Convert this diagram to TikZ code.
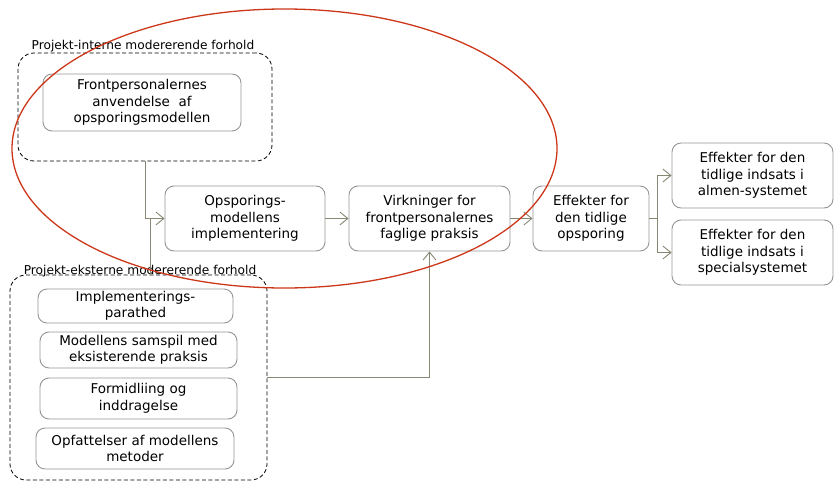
\documentclass[tikz,border=0pt]{standalone}
\usepackage{fontspec}
\setmainfont{DejaVu Sans}
\usetikzlibrary{arrows.meta}
\definecolor{boxline}{RGB}{150,150,150}
\definecolor{connline}{RGB}{135,135,115}
\definecolor{ringred}{RGB}{205,55,25}
\tikzset{
  stepbox/.style={draw=boxline, line width=0.9pt, rounded corners=9pt, fill=white,
    align=center, inner sep=0pt, font=\fontsize{13.5}{16.5}\selectfont},
  groupbox/.style={draw=black, line width=0.8pt, dash pattern=on 4pt off 2.5pt,
    rounded corners=16pt, inner sep=0pt},
  grouplabel/.style={anchor=base, inner sep=0pt, font=\fontsize{12.2}{14}\selectfont},
  conn/.style={draw=connline, line width=0.9pt},
  connarrow/.style={conn, -{Straight Barb[length=8pt, width=13pt, line width=0.9pt]}},
  ring/.style={draw=ringred, line width=1.3pt}
}
\begin{document}
\begin{tikzpicture}[x=1pt, y=-1pt]
\useasboundingbox (0,0) rectangle (836,482);

% project-internal group
\node[groupbox, minimum width=254pt, minimum height=108pt] (topgrp) at (145,107) {};
\node[grouplabel] (toplbl) at (143,49) {Projekt-interne modererende forhold};
\node[stepbox, minimum width=198pt, minimum height=57pt] (fp) at (142,102.5)
  {Frontpersonalernes\\anvendelse\ \ af\\opsporingsmodellen};

% project-external group
\node[groupbox, minimum width=257pt, minimum height=205pt] (botgrp) at (138.5,377.5) {};
\node[grouplabel] (botlbl) at (140,274) {Projekt-eksterne modererende forhold};
\node[stepbox, minimum width=195pt, minimum height=34pt] (e1) at (135.5,306)
  {Implementerings-\\parathed};
\node[stepbox, minimum width=197pt, minimum height=36pt] (e2) at (138.5,350)
  {Modellens samspil med\\eksisterende praksis};
\node[stepbox, minimum width=197pt, minimum height=41pt] (e3) at (138.5,398.5)
  {Formidliing og\\inddragelse};
\node[stepbox, minimum width=198pt, minimum height=41pt] (e4) at (135,448.5)
  {Opfattelser af modellens\\metoder};

% main chain
\node[stepbox, minimum width=160pt, minimum height=65pt] (imp) at (245,218.5)
  {Opsporings-\\modellens\\implementering};
\node[stepbox, minimum width=161pt, minimum height=65pt] (virk) at (429.5,218.5)
  {Virkninger for\\frontpersonalernes\\faglige praksis};
\node[stepbox, minimum width=116pt, minimum height=65pt] (eff) at (591,218.5)
  {Effekter for\\den tidlige\\opsporing};
\node[stepbox, minimum width=161pt, minimum height=65pt] (alm) at (752.5,175.5)
  {Effekter for den\\tidlige indsats i\\almen-systemet};
\node[stepbox, minimum width=161pt, minimum height=65pt] (spec) at (752.5,252.5)
  {Effekter for den\\tidlige indsats i\\specialsystemet};

% connectors
\coordinate (join) at (150,218.5);
\coordinate (split) at (657,218.5);
\draw[connarrow] (topgrp.south) |- (imp.west);
\draw[conn] (botgrp.north -| join) -- (join);
\draw[connarrow] (imp.east) -- (virk.west);
\draw[connarrow] (virk.east) -- (eff.west);
\draw[conn] (eff.east) -- (split);
\draw[connarrow] (split) |- (alm.west);
\draw[connarrow] (split) |- (spec.west);
\draw[connarrow] (botgrp.east) -| (virk.south);

% highlight ring
\draw[ring] (284.5,148.5) ellipse [x radius=272.5pt, y radius=139.5pt];
\end{tikzpicture}
\end{document}
